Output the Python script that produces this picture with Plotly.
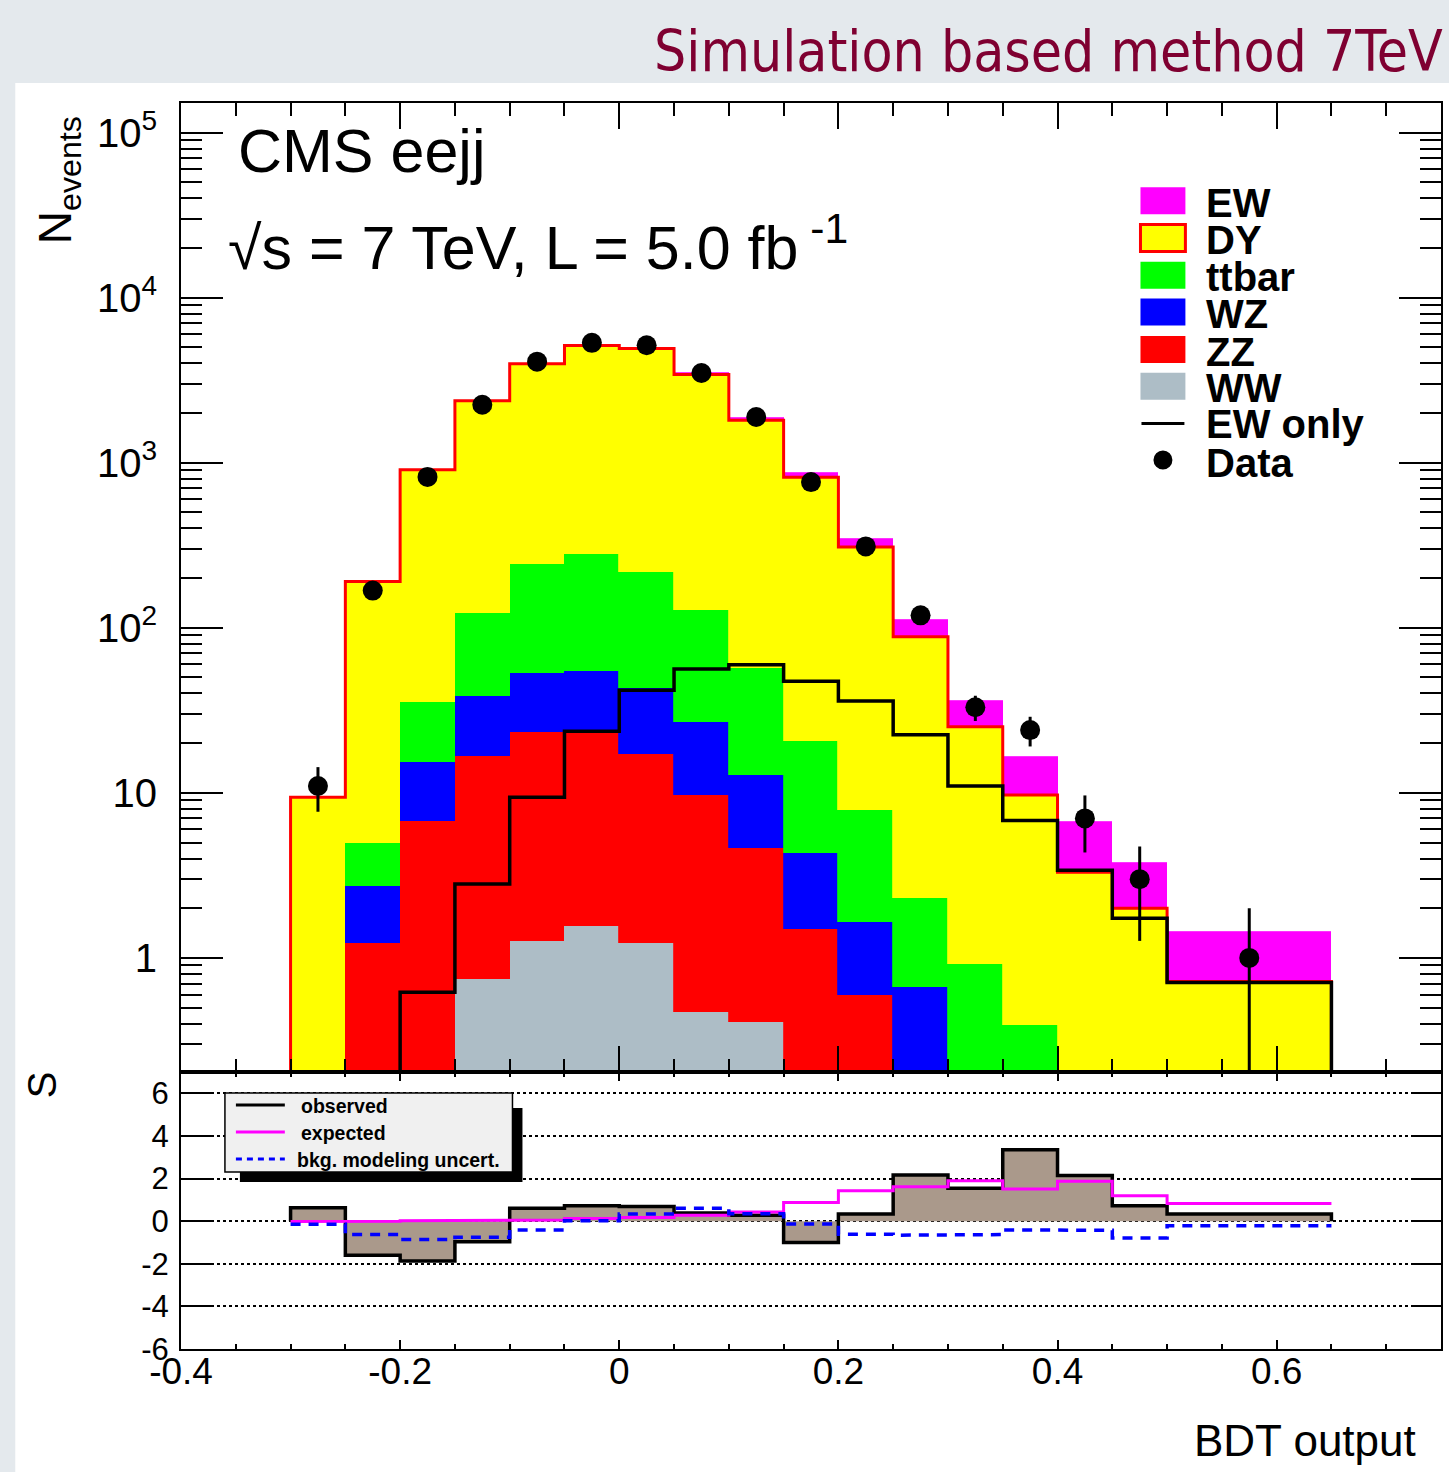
import math
import plotly.graph_objects as go

# ---------------- data ----------------
edges = [-0.30, -0.25, -0.20, -0.15, -0.10, -0.05, 0.00, 0.05, 0.10, 0.15,
         0.20, 0.25, 0.30, 0.35, 0.40, 0.45, 0.50, 0.65]
ww    = [0, 0, 0, 0.75, 1.26, 1.56, 1.23, 0.47, 0.41, 0, 0, 0, 0, 0, 0, 0, 0]
zz    = [0, 1.24, 6.8, 16.0, 22.2, 21.6, 16.0, 9.3, 4.2, 1.5, 0.6, 0, 0, 0, 0, 0, 0]
wz    = [0, 1.5, 8.5, 21.9, 29.9, 31.4, 25.7, 17.0, 8.3, 2.8, 1.06, 0.67, 0, 0, 0, 0, 0]
ttbar = [0, 2.24, 20.0, 85, 191, 225, 175, 102, 44.4, 16.4, 6.2, 1.64, 0.92, 0.39, 0, 0, 0]
dy    = [9.4, 186, 870, 2249, 3730, 4846, 4695, 3298, 1748, 797, 301, 86, 24.2, 9.3, 3.3, 2.0, 0.72]
ew    = [0, 0, 0.62, 2.8, 9.4, 23.6, 41.9, 56.2, 59.7, 47.5, 36, 22.5, 11, 6.8, 3.4, 1.74, 0.71]
data  = [11, 168, 820, 2245, 4095, 5320, 5150, 3497, 1891, 763, 311, 119, 33, 24, 7, 3, 1]

sig_obs = [0.63, -1.6, -1.87, -0.97, 0.6, 0.72, 0.69, 0.38, 0.28, -1.0, 0.33, 2.17, 1.54, 3.35, 2.14, 0.72, 0.33]
sig_exp = [-0.02, 0.0, 0.02, 0.03, 0.05, 0.12, 0.17, 0.28, 0.43, 0.88, 1.43, 1.62, 1.9, 1.51, 1.87, 1.19, 0.83]
sig_unc = [-0.14, -0.63, -0.86, -0.75, -0.41, 0.02, 0.33, 0.61, 0.35, -0.13, -0.61, -0.66, -0.63, -0.41, -0.43, -0.79, -0.22]

x_ticks = [-0.4, -0.2, 0.0, 0.2, 0.4, 0.6]
x_ticktext = ["-0.4", "-0.2", "0", "0.2", "0.4", "0.6"]
y_ticks = [1, 10, 100, 1000, 10000, 100000]
y_ticktext = ["1", "10", "10<sup>2</sup>", "10<sup>3</sup>", "10<sup>4</sup>", "10<sup>5</sup>"]
s_ticks = [-6, -4, -2, 0, 2, 4, 6]
s_ticktext = ["-6", "-4", "-2", "0", "2", "4", "6"]

# ---------------- helpers ----------------
centers = [(a + b) / 2 for a, b in zip(edges[:-1], edges[1:])]
widths = [b - a for a, b in zip(edges[:-1], edges[1:])]

W, H = 1449, 1472
L, R, T, B = 181, 1443, 103, 1349
SPLIT_Y = 1072


def px(x):
    return (x - L) / (R - L)


def py(y):
    return (B - y) / (B - T)


split = py(SPLIT_Y)


def step_log(vals, floor):
    xs, ys = [edges[0]], [floor]
    for i, v in enumerate(vals):
        xs += [edges[i], edges[i + 1]]
        ys += [v if v > 0 else floor] * 2
    xs.append(edges[-1])
    ys.append(floor)
    return xs, ys


def step_lin(vals, base):
    xs, ys = [edges[0]], [base]
    for i, v in enumerate(vals):
        xs += [edges[i], edges[i + 1]]
        ys += [v, v]
    xs.append(edges[-1])
    ys.append(base)
    return xs, ys


def step_open(vals):
    xs, ys = [], []
    for i, v in enumerate(vals):
        xs += [edges[i], edges[i + 1]]
        ys += [v, v]
    return xs, ys


FONT = "Liberation Sans, Arial, Helvetica, sans-serif"
fig = go.Figure()

# ---------------- top panel: stack ----------------
stack = [("WW", ww, "#adbdc6"), ("ZZ", zz, "#ff0000"), ("WZ", wz, "#0000ff"),
         ("ttbar", ttbar, "#00ff00"), ("DY", dy, "#ffff00"), ("EW", ew, "#ff00ff")]
for name, vals, col in stack:
    fig.add_trace(go.Bar(x=centers, y=vals, width=widths, name=name,
                         marker=dict(color=col, line=dict(color=col, width=0.8)),
                         xaxis="x", yaxis="y", showlegend=False))

dy_cum = [a + b + c + d + e for a, b, c, d, e in zip(ww, zz, wz, ttbar, dy)]
xs, ys = step_log(dy_cum, 1e-3)
fig.add_trace(go.Scatter(x=xs, y=ys, mode="lines", line=dict(color="#ff0000", width=3),
                         xaxis="x", yaxis="y", showlegend=False, hoverinfo="skip"))
xs, ys = step_log(ew, 1e-3)
fig.add_trace(go.Scatter(x=xs, y=ys, mode="lines", line=dict(color="black", width=3.5),
                         xaxis="x", yaxis="y", showlegend=False, hoverinfo="skip"))

err_up = [math.sqrt(n) for n in data]
err_dn = [min(math.sqrt(n), n * 0.999) for n in data]
fig.add_trace(go.Scatter(x=centers, y=data, mode="markers",
                         marker=dict(color="black", size=20),
                         error_y=dict(type="data", array=err_up, arrayminus=err_dn,
                                      color="black", thickness=3, width=0),
                         xaxis="x", yaxis="y", showlegend=False, cliponaxis=True))

# ---------------- bottom panel ----------------
xs, ys = step_lin(sig_obs, 0)
fig.add_trace(go.Scatter(x=xs, y=ys, mode="lines", fill="tozeroy", fillcolor="#aa998b",
                         line=dict(color="black", width=3.5),
                         xaxis="x2", yaxis="y2", showlegend=False))
xs, ys = step_open(sig_exp)
fig.add_trace(go.Scatter(x=xs, y=ys, mode="lines", line=dict(color="#ff00ff", width=3),
                         xaxis="x2", yaxis="y2", showlegend=False))
xs, ys = step_open(sig_unc)
fig.add_trace(go.Scatter(x=xs, y=ys, mode="lines",
                         line=dict(color="#0000ff", width=3.5, dash="10px,8px"),
                         xaxis="x2", yaxis="y2", showlegend=False))

# ---------------- axes ----------------
minor_log = [k * 10 ** e for e in range(-1, 6) for k in range(2, 10) if 0.2 <= k * 10 ** e <= 1.5e5]

axis_common = dict(showline=True, linecolor="black", linewidth=2, mirror="ticks",
                   ticks="inside", tickcolor="black", zeroline=False)

fig.update_layout(
    xaxis=dict(domain=[0, 1], anchor="y", range=[-0.4, 0.75], showticklabels=False,
               tickmode="array", tickvals=x_ticks, ticklen=26, tickwidth=2, showgrid=False,
               minor=dict(ticks="inside", tick0=-0.4, dtick=0.05, ticklen=13, tickwidth=2,
                          tickcolor="black", showgrid=False),
               **axis_common),
    yaxis=dict(domain=[split, 1], anchor="x", type="log",
               range=[math.log10(0.2037), 5.179],
               tickmode="array", tickvals=y_ticks, ticktext=y_ticktext, ticklen=42, tickwidth=1.5,
               showgrid=False, ticklabelstandoff=14,
               tickfont=dict(family=FONT, size=40, color="black"),
               minor=dict(ticks="inside", tickvals=minor_log, ticklen=21, tickwidth=1.5,
                          tickcolor="black", showgrid=False),
               **axis_common),
    xaxis2=dict(domain=[0, 1], anchor="y2", range=[-0.4, 0.75],
                tickmode="array", tickvals=x_ticks, ticktext=x_ticktext, ticklen=9, tickwidth=2,
                showgrid=False, ticklabelstandoff=-11,
                tickfont=dict(family=FONT, size=37, color="black"),
                minor=dict(ticks="inside", tick0=-0.4, dtick=0.05, ticklen=5, tickwidth=2,
                           tickcolor="black", showgrid=False),
                **axis_common),
    yaxis2=dict(domain=[0, split], anchor="x2", range=[-6, 7],
                tickmode="array", tickvals=s_ticks, ticktext=s_ticktext, ticklen=30, tickwidth=2,
                showgrid=True, gridcolor="black", griddash="dot", gridwidth=1.5,
                ticklabelstandoff=4,
                tickfont=dict(family=FONT, size=31, color="black"),
                **axis_common),
    barmode="stack",
    bargap=0,
    width=W, height=H,
    margin=dict(l=L, r=W - R, t=T, b=H - B, pad=0),
    paper_bgcolor="#e4e9ed",
    plot_bgcolor="white",
    showlegend=False,
)

shapes = []
annotations = []

# white canvas
shapes.append(dict(type="rect", xref="paper", yref="paper", x0=px(15), x1=px(1449 + 5),
                   y0=py(1472 + 5), y1=py(83), fillcolor="white", line=dict(width=0),
                   layer="below"))

# ---------------- top legend ----------------
legend_rows = [("EW", "#ff00ff", 200.8), ("DY", "#ffff00", 238), ("ttbar", "#00ff00", 275.3),
               ("WZ", "#0000ff", 312), ("ZZ", "#ff0000", 349.5), ("WW", "#adbdc6", 386.3)]
for name, col, yc in legend_rows:
    line = dict(color="#ff0000", width=3) if name == "DY" else dict(width=0)
    shapes.append(dict(type="rect", xref="paper", yref="paper", x0=px(1142), x1=px(1187),
                       y0=py(yc + 13.5), y1=py(yc - 13.5), fillcolor=col, line=line))
    annotations.append(dict(text=f"<b>{name}</b>", x=px(1206), y=py(yc + 2), xref="paper",
                            yref="paper", xanchor="left", yanchor="middle", showarrow=False,
                            font=dict(family=FONT, size=40, color="black")))
shapes.append(dict(type="line", xref="paper", yref="paper", x0=px(1143), x1=px(1186),
                   y0=py(423.5), y1=py(423.5), line=dict(color="black", width=3)))
annotations.append(dict(text="<b>EW only</b>", x=px(1206), y=py(424), xref="paper", yref="paper",
                        xanchor="left", yanchor="middle", showarrow=False,
                        font=dict(family=FONT, size=40, color="black")))
shapes.append(dict(type="circle", xref="paper", yref="paper", x0=px(1155), x1=px(1174),
                   y0=py(469.5), y1=py(450.5), fillcolor="black", line=dict(width=0)))
annotations.append(dict(text="<b>Data</b>", x=px(1206), y=py(463), xref="paper", yref="paper",
                        xanchor="left", yanchor="middle", showarrow=False,
                        font=dict(family=FONT, size=40, color="black")))

# ---------------- bottom legend ----------------
shapes.append(dict(type="rect", xref="paper", yref="paper", x0=px(240), x1=px(523),
                   y0=py(1182), y1=py(1108), fillcolor="black", line=dict(width=0)))
shapes.append(dict(type="rect", xref="paper", yref="paper", x0=px(225), x1=px(513),
                   y0=py(1172), y1=py(1093), fillcolor="#f0f0f0",
                   line=dict(color="black", width=1.5)))
low_rows = [("observed", "black", "solid", 1105, 299), ("expected", "#ff00ff", "solid", 1132, 299),
            ("bkg. modeling uncert.", "#0000ff", "6px,5px", 1159, 295)]
for name, col, dash, yc, xl in low_rows:
    shapes.append(dict(type="line", xref="paper", yref="paper", x0=px(236), x1=px(285),
                       y0=py(yc), y1=py(yc), line=dict(color=col, width=3, dash=dash)))
    annotations.append(dict(text=f"<b>{name}</b>", x=px(xl), y=py(yc + 1), xref="paper",
                            yref="paper", xanchor="left", yanchor="middle", showarrow=False,
                            font=dict(family=FONT, size=19.5, color="black")))

fig.update_layout(shapes=shapes)

# ---------------- texts ----------------
annotations += [
    dict(text="Simulation based method 7TeV", x=px(1447), y=py(52), xanchor="right",
         yanchor="middle", font=dict(family="DejaVu Sans Condensed, DejaVu Sans", size=56.5,
                                     color="#7f0031")),
    dict(text="CMS eejj", x=px(236), y=py(151), xanchor="left", yanchor="middle",
         font=dict(family=FONT, size=61, color="black")),
    dict(text="√s = 7 TeV, L = 5.0 fb<sup> -1</sup>", x=px(226), y=py(243), xanchor="left",
         yanchor="middle", font=dict(family=FONT, size=61, color="black")),
    dict(text="N<sub>events</sub>", x=px(58), y=py(180), xanchor="center", yanchor="middle",
         textangle=-90, font=dict(family=FONT, size=46, color="black")),
    dict(text="S", x=px(42), y=py(1085), xanchor="center", yanchor="middle", textangle=-90,
         font=dict(family=FONT, size=40, color="black")),
    dict(text="BDT output", x=px(1420), y=py(1440), xanchor="right", yanchor="middle",
         font=dict(family=FONT, size=44, color="black")),
]
for a in annotations:
    a.setdefault("xref", "paper")
    a.setdefault("yref", "paper")
    a.setdefault("showarrow", False)
fig.update_layout(annotations=annotations)

fig.write_html("out.html", config={"displayModeBar": False},
               post_script="document.body.style.margin='0px';")
